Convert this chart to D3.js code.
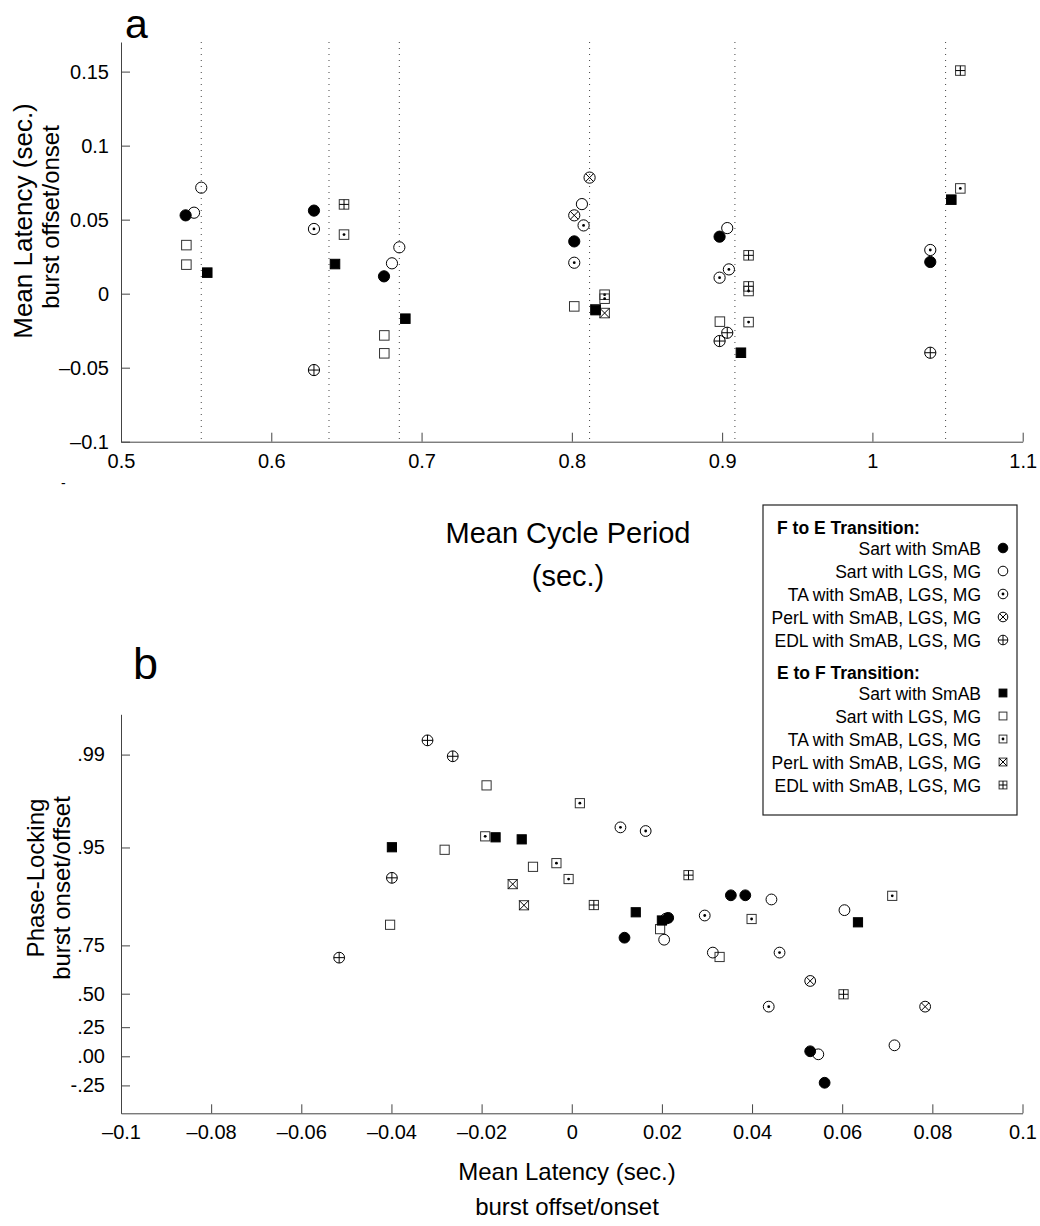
<!DOCTYPE html>
<html>
<head>
<meta charset="utf-8">
<script src="https://cdn.jsdelivr.net/npm/d3@7"></script>
<style>
  body { margin: 0; background: #fff; }
  svg { display: block; font-family: "Liberation Sans", Arial, Helvetica, sans-serif; }
  .axis path, .axis line { stroke: #444; stroke-width: 1; }
  .axis text { font-size: 20px; fill: #000; font-family: "Liberation Sans", Arial, sans-serif; }
</style>
</head>
<body>
<svg id="fig" width="1040" height="1226"></svg>
<script>
// each point: [mean cycle period, mean latency, phase-locking]
var feSartSmAB = [[0.543, 0.0529, 0.044], [0.6284, 0.0561, -0.228], [0.675, 0.0117, 0.778],
                  [0.8016, 0.0353, 0.888], [0.8983, 0.0385, 0.888], [1.0385, 0.0214, 0.838]];
var feSartLGS  = [[0.5486, 0.0547, 0.0175], [0.5534, 0.0716, 0.096], [0.6852, 0.0313, 0.721],
                  [0.6803, 0.0205, 0.771], [0.8067, 0.0605, 0.857], [0.9034, 0.0443, 0.880]];
var feTA       = [[0.6284, 0.0437, 0.410], [0.8078, 0.0461, 0.721], [0.8016, 0.0209, 0.836],
                  [0.9045, 0.0164, 0.9623], [0.8983, 0.0108, 0.9646], [1.0385, 0.0295, 0.844]];
var fePerL     = [[0.8118, 0.0784, 0.410], [0.8016, 0.0529, 0.579]];
var feEDL      = [[0.6284, -0.0516, 0.699], [0.9034, -0.0264, 0.9897], [0.8983, -0.0320, 0.9922],
                  [1.0385, -0.0399, 0.9163]];
var efSartSmAB = [[0.5574, 0.0142, 0.852], [0.6424, 0.0200, 0.831], [0.6892, -0.0169, 0.958],
                  [0.8158, -0.0111, 0.9565], [0.9125, -0.0399, 0.9502], [1.0525, 0.0635, 0.826]];
var efSartLGS  = [[0.5435, 0.0328, 0.702], [0.5435, 0.0196, 0.806], [0.6752, -0.0282, 0.948],
                  [0.6752, -0.0403, 0.819], [0.8016, -0.0086, 0.9305], [0.8985, -0.0189, 0.9829]];
var efTA       = [[0.6484, 0.0399, 0.835], [0.8218, -0.0007, 0.9146], [0.8218, -0.0034, 0.9347],
                  [0.9176, 0.0018, 0.9767], [0.9176, -0.0192, 0.9587], [1.0585, 0.0711, 0.887]];
var efPerL     = [[0.8218, -0.0131, 0.907], [0.8158, -0.0106, 0.868]];
var efEDL      = [[0.6484, 0.0603, 0.496], [0.9176, 0.0259, 0.920], [0.9176, 0.0049, 0.8685],
                  [1.0585, 0.1507, null]];

// mean cycle period of each preparation (dotted lines)
var periodMeans = [0.5534, 0.6384, 0.6852, 0.8118, 0.9085, 1.0487];

var periodTicks = [0.5, 0.6, 0.7, 0.8, 0.9, 1, 1.1];
var latencyTicksA = [-0.1, -0.05, 0, 0.05, 0.1, 0.15];
var latencyTicksB = [-0.1, -0.08, -0.06, -0.04, -0.02, 0, 0.02, 0.04, 0.06, 0.08, 0.1];
var phaseTicks = [0.99, 0.95, 0.75, 0.5, 0.25, 0, -0.25];
var phaseLabels = [".99", ".95", ".75", ".50", ".25", ".00", "-.25"];

var feLabels = ["Sart with SmAB", "Sart with LGS, MG", "TA with SmAB, LGS, MG", "PerL with SmAB, LGS, MG", "EDL with SmAB, LGS, MG"];
var efLabels = ["Sart with SmAB", "Sart with LGS, MG", "TA with SmAB, LGS, MG", "PerL with SmAB, LGS, MG", "EDL with SmAB, LGS, MG"];

var feSeries = [
  {data: feSartSmAB, shape: "circle", filled: true,  inner: null},
  {data: feSartLGS,  shape: "circle", filled: false, inner: null},
  {data: feTA,       shape: "circle", filled: false, inner: "dot"},
  {data: fePerL,     shape: "circle", filled: false, inner: "x"},
  {data: feEDL,      shape: "circle", filled: false, inner: "plus"}
];
var efSeries = [
  {data: efSartSmAB, shape: "square", filled: true,  inner: null},
  {data: efSartLGS,  shape: "square", filled: false, inner: null},
  {data: efTA,       shape: "square", filled: false, inner: "dot"},
  {data: efPerL,     shape: "square", filled: false, inner: "x"},
  {data: efEDL,      shape: "square", filled: false, inner: "plus"}
];

var svg = d3.select("#fig");
svg.append("rect").attr("width", 1040).attr("height", 1226).attr("fill", "#fff");

var dash = function(s) { return s.replace("-", "\u2013").replace("\u2212", "\u2013"); };
var fmt = d3.format("~g");

// draw a MATLAB-like marker into g
function drawMarker(g, m, r) {
  var lw = 1;
  if (m.shape === "circle") {
    g.append("circle").attr("r", r)
      .attr("fill", m.filled ? "#000" : "none")
      .attr("stroke", "#000").attr("stroke-width", lw);
    if (m.inner === "x") {
      var k = r * 0.707;
      g.append("path").attr("d", "M" + (-k) + "," + (-k) + "L" + k + "," + k + "M" + (-k) + "," + k + "L" + k + "," + (-k))
        .attr("stroke", "#000").attr("stroke-width", lw);
    }
    if (m.inner === "plus") {
      g.append("path").attr("d", "M" + (-r) + ",0H" + r + "M0," + (-r) + "V" + r)
        .attr("stroke", "#000").attr("stroke-width", lw);
    }
  } else {
    var h = r * 0.85;
    g.append("rect").attr("x", -h).attr("y", -h).attr("width", 2 * h).attr("height", 2 * h)
      .attr("fill", m.filled ? "#000" : "none")
      .attr("stroke", m.filled ? "#000" : "#333").attr("stroke-width", lw);
    if (m.inner === "x") {
      g.append("path").attr("d", "M" + (-h) + "," + (-h) + "L" + h + "," + h + "M" + (-h) + "," + h + "L" + h + "," + (-h))
        .attr("stroke", "#000").attr("stroke-width", lw);
    }
    if (m.inner === "plus") {
      g.append("path").attr("d", "M" + (-h) + ",0H" + h + "M0," + (-h) + "V" + h)
        .attr("stroke", "#000").attr("stroke-width", lw);
    }
  }
  if (m.inner === "dot") {
    g.append("circle").attr("r", 1.4).attr("fill", "#000");
  }
}

// draw order: squares first, open before filled
var drawOrder = efSeries.slice().reverse().concat(feSeries.slice().reverse());

// ---------------- panel a ----------------
var xA = d3.scaleLinear().domain([0.5, 1.1]).range([121, 1022.7]);
var yA = d3.scaleLinear().domain([-0.1, 0.17]).range([441.7, 42]);

svg.append("g").selectAll("line").data(periodMeans).enter().append("line")
  .attr("x1", function(d) { return xA(d); }).attr("x2", function(d) { return xA(d); })
  .attr("y1", yA(0.17)).attr("y2", yA(-0.1))
  .attr("stroke", "#444").attr("stroke-width", 1).attr("stroke-dasharray", "1,5");

svg.append("g").attr("class", "axis").attr("transform", "translate(0," + yA(-0.1) + ")")
  .call(d3.axisBottom(xA).tickValues(periodTicks).tickFormat(fmt)
    .tickSizeInner(-9).tickSizeOuter(0).tickPadding(12));
svg.append("g").attr("class", "axis").attr("transform", "translate(" + xA(0.5) + ",0)")
  .call(d3.axisLeft(yA).tickValues(latencyTicksA).tickFormat(function(d) { return dash(fmt(d)); })
    .tickSizeInner(-9).tickSizeOuter(0).tickPadding(12));

var gA = svg.append("g");
drawOrder.forEach(function(s) {
  s.data.forEach(function(p) {
    var g = gA.append("g").attr("transform", "translate(" + xA(p[0]) + "," + yA(p[1]) + ")");
    drawMarker(g, s, 5.6);
  });
});

svg.append("text").attr("x", 125).attr("y", 38).attr("font-size", 41).text("a");
svg.append("text").attr("x", 568).attr("y", 543).attr("text-anchor", "middle").attr("font-size", 29).text("Mean Cycle Period");
svg.append("text").attr("x", 568).attr("y", 586).attr("text-anchor", "middle").attr("font-size", 29).text("(sec.)");
svg.append("text").attr("transform", "translate(32,221) rotate(-90)").attr("text-anchor", "middle").attr("font-size", 26).text("Mean Latency (sec.)");
svg.append("text").attr("transform", "translate(59,217) rotate(-90)").attr("text-anchor", "middle").attr("font-size", 24).text("burst offset/onset");
svg.append("text").attr("x", 61).attr("y", 488).attr("font-size", 14).text("-");

// ---------------- panel b ----------------
var xB = d3.scaleLinear().domain([-0.1, 0.1]).range([121, 1022.5]);
var zB = d3.scaleLinear().domain([-0.5, 3]).range([1113.3, 714.3]);
var yB = function(r) { return zB(Math.atanh(r)); };

svg.append("g").attr("class", "axis").attr("transform", "translate(0," + zB(-0.5) + ")")
  .call(d3.axisBottom(xB).tickValues(latencyTicksB).tickFormat(function(d) { return dash(fmt(d)); })
    .tickSizeInner(-9).tickSizeOuter(0).tickPadding(12));
svg.append("g").attr("class", "axis").attr("transform", "translate(" + xB(-0.1) + ",0)")
  .call(d3.axisLeft(zB).tickValues(phaseTicks.map(Math.atanh)).tickFormat(function(d, i) { return phaseLabels[i]; })
    .tickSizeInner(-9).tickSizeOuter(0).tickPadding(16));

var gB = svg.append("g");
drawOrder.forEach(function(s) {
  s.data.filter(function(p) { return p[2] !== null && p[1] <= 0.1; }).forEach(function(p) {
    var g = gB.append("g").attr("transform", "translate(" + xB(p[1]) + "," + yB(p[2]) + ")");
    drawMarker(g, s, 5.4);
  });
});

svg.append("text").attr("x", 133).attr("y", 679).attr("font-size", 45).text("b");
svg.append("text").attr("x", 567).attr("y", 1180).attr("text-anchor", "middle").attr("font-size", 24).text("Mean Latency (sec.)");
svg.append("text").attr("x", 567).attr("y", 1215).attr("text-anchor", "middle").attr("font-size", 24).text("burst offset/onset");
svg.append("text").attr("transform", "translate(44,878) rotate(-90)").attr("text-anchor", "middle").attr("font-size", 24).text("Phase-Locking");
svg.append("text").attr("transform", "translate(70,888) rotate(-90)").attr("text-anchor", "middle").attr("font-size", 24).text("burst onset/offset");

// ---------------- legend ----------------
var lg = svg.append("g").attr("transform", "translate(763,505)");
lg.append("rect").attr("width", 254).attr("height", 310).attr("fill", "#fff").attr("stroke", "#222").attr("stroke-width", 1.2);

function legendBlock(title, labels, series, top) {
  lg.append("text").attr("x", 14).attr("y", top + 6.5).attr("font-size", 17.5).attr("font-weight", "bold").text(title);
  labels.forEach(function(l, i) {
    var yy = top + 21 + 23 * i;
    lg.append("text").attr("x", 218).attr("y", yy + 6.5).attr("text-anchor", "end").attr("font-size", 17.5).text(l);
    var g = lg.append("g").attr("transform", "translate(240," + yy + ")");
    drawMarker(g, series[i], series[i].shape === "circle" ? 4.8 : 4.6);
  });
}
legendBlock("F to E Transition:", feLabels, feSeries, 22);
legendBlock("E to F Transition:", efLabels, efSeries, 167);
</script>
</body>
</html>
